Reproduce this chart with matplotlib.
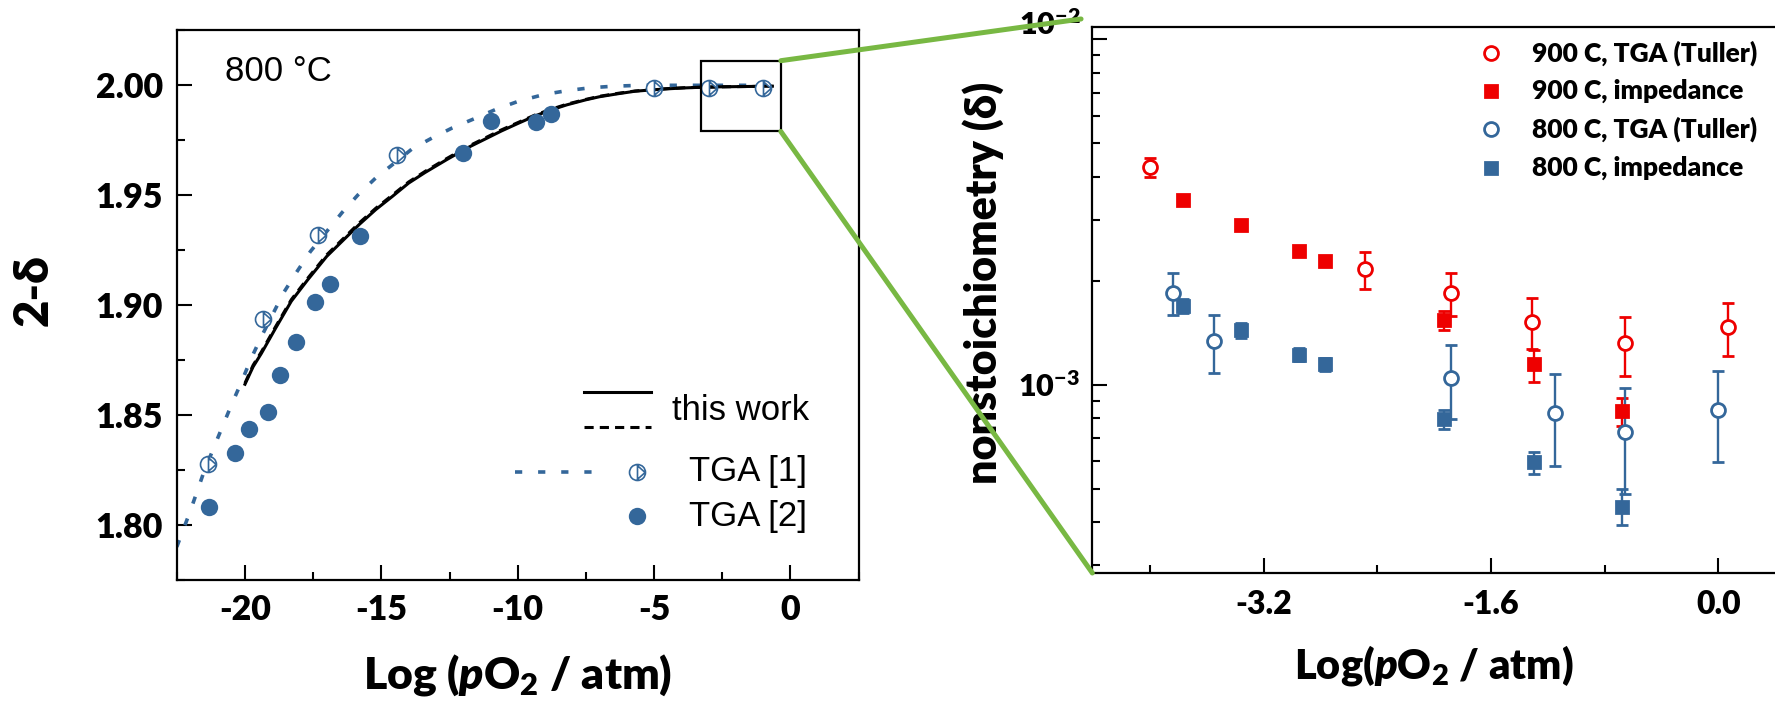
import numpy as np
import matplotlib
matplotlib.use('Agg')
import matplotlib.pyplot as plt
from matplotlib.patches import Rectangle, ConnectionPatch
from matplotlib.path import Path
from matplotlib.ticker import MultipleLocator, FormatStrFormatter, LogLocator, NullFormatter, FuncFormatter

plt.rcParams['axes.unicode_minus'] = False
plt.rcParams['mathtext.fontset'] = 'custom'
plt.rcParams['mathtext.rm'] = 'Lato'
plt.rcParams['mathtext.bf'] = 'Lato:heavy'
plt.rcParams['mathtext.it'] = 'Lato:italic'
plt.rcParams['mathtext.bfit'] = 'Lato:italic:heavy'

BLUE = '#34679A'
RED = '#EE0000'
GREEN = '#78B843'
BOLD = ['Lato', 'DejaVu Sans']
PLAIN = ['Liberation Sans', 'DejaVu Sans']
WEIGHT = 'heavy'

# ---- left panel: 2-delta vs log pO2 at 800 C ----
fit_x = [-20.0, -19.7, -19.4, -18.9, -18.3, -17.7, -17.0, -16.4, -15.8, -15.2, -14.6,
         -14.0, -13.4, -12.6, -11.85, -11.2, -10.6, -10.0, -9.4, -8.8, -8.2, -7.5,
         -7.0, -6.3, -5.7, -5.1, -4.5, -3.9, -3.3, -2.6, -2.0, -1.3, -0.66]
fit_solid = [1.864, 1.872, 1.878, 1.889, 1.9018, 1.9115, 1.9222, 1.9295, 1.9368, 1.9435, 1.9494,
             1.9555, 1.9603, 1.9662, 1.9715, 1.9755, 1.9792, 1.9826, 1.9859, 1.9887, 1.9911, 1.9934,
             1.9948, 1.9962, 1.9973, 1.9979, 1.9984, 1.9988, 1.9991, 1.9993, 1.9994, 1.9995, 1.9996]
fit_dashed = [1.8645, 1.8727, 1.8787, 1.8897, 1.9025, 1.9122, 1.9229, 1.9302, 1.9375, 1.9441, 1.950,
              1.956, 1.9608, 1.9667, 1.972, 1.976, 1.9797, 1.983, 1.9863, 1.989, 1.9914, 1.9936,
              1.995, 1.9964, 1.9974, 1.998, 1.9985, 1.9989, 1.9991, 1.9993, 1.9994, 1.9995, 1.9996]

tga1_fit_x = [-22.5, -22.0, -21.5, -21.0, -20.5, -20.13, -19.77, -19.4, -18.58, -18.09, -17.6,
              -16.44, -15.86, -15.21, -14.5, -13.87, -13.13, -12.4, -11.61, -10.81, -9.96,
              -9.04, -8.18, -7.32, -6.47, -5.5, -3.0, -0.66]
tga1_fit_y = [1.790, 1.8065, 1.8243, 1.8395, 1.8545, 1.865, 1.8758, 1.8856, 1.9057, 1.9153, 1.9244,
              1.9421, 1.9501, 1.9578, 1.9648, 1.9711, 1.9761, 1.9806, 1.9847, 1.9890, 1.9928,
              1.9958, 1.9976, 1.9989, 1.9996, 2.0, 2.0, 2.0]

tga1_x = [-21.34, -19.34, -17.32, -14.44, -5.0, -2.98, -0.99]
tga1_y = [1.8277, 1.8938, 1.9319, 1.9684, 1.9989, 1.9989, 1.9986]

tga2_x = [-21.32, -20.37, -19.84, -19.14, -18.70, -18.13, -17.43, -16.87, -15.80,
          -12.01, -10.98, -9.31, -8.77]
tga2_y = [1.808, 1.8326, 1.8438, 1.8514, 1.8681, 1.8832, 1.9013, 1.9097, 1.9313,
          1.9693, 1.9836, 1.9833, 1.9868]

# zoom window on the left panel
zoom_x = [-3.27, -0.35]
zoom_y = [1.979, 2.0112]

# ---- right panel: nonstoichiometry vs log pO2 ----
tga900_x = [-4.0, -2.49, -1.88, -1.31, -0.66, 0.07]
tga900_y = [4.27e-3, 2.17e-3, 1.85e-3, 1.52e-3, 1.32e-3, 1.47e-3]
tga900_lo = [4.01e-3, 1.90e-3, 1.58e-3, 1.27e-3, 1.06e-3, 1.21e-3]
tga900_hi = [4.53e-3, 2.43e-3, 2.11e-3, 1.78e-3, 1.57e-3, 1.72e-3]

imp900_x = [-3.77, -3.36, -2.95, -2.77, -1.93, -1.30, -0.68]
imp900_y = [3.44e-3, 2.90e-3, 2.44e-3, 2.29e-3, 1.54e-3, 1.145e-3, 8.39e-4]
imp900_lo = [3.37e-3, 2.84e-3, 2.39e-3, 2.24e-3, 1.44e-3, 1.02e-3, 7.6e-4]
imp900_hi = [3.51e-3, 2.96e-3, 2.49e-3, 2.34e-3, 1.64e-3, 1.26e-3, 9.15e-4]

tga800_x = [-3.84, -3.55, -1.88, -1.15, -0.66, 0.0]
tga800_y = [1.85e-3, 1.34e-3, 1.043e-3, 8.29e-4, 7.29e-4, 8.44e-4]
tga800_lo = [1.59e-3, 1.084e-3, 7.95e-4, 5.81e-4, 4.83e-4, 5.96e-4]
tga800_hi = [2.11e-3, 1.59e-3, 1.30e-3, 1.077e-3, 9.77e-4, 1.094e-3]

imp800_x = [-3.77, -3.36, -2.95, -2.77, -1.93, -1.30, -0.68]
imp800_y = [1.69e-3, 1.44e-3, 1.222e-3, 1.145e-3, 7.95e-4, 5.98e-4, 4.44e-4]
imp800_lo = [1.61e-3, 1.37e-3, 1.17e-3, 1.095e-3, 7.44e-4, 5.53e-4, 3.92e-4]
imp800_hi = [1.77e-3, 1.51e-3, 1.28e-3, 1.195e-3, 8.46e-4, 6.4e-4, 4.98e-4]

legend_labels = ['900 C, TGA (Tuller)', '900 C, impedance',
                 '800 C, TGA (Tuller)', '800 C, impedance']

# half-open circle marker used for TGA [1]
half_circle = Path.make_compound_path(
    Path.unit_circle(),
    Path([(0, -1), (0, 1)]),
    Path([(0, 0.85), (0.95, 0), (0, -0.85)]))

fig = plt.figure(figsize=(17.75, 7.01), dpi=100)
ax1 = fig.add_axes([0.0996, 0.1728, 0.3841, 0.7839])
ax2 = fig.add_axes([0.6154, 0.1826, 0.3874, 0.7795])

# left panel
ax1.plot(tga1_fit_x, tga1_fit_y, color=BLUE, lw=2.6, ls=(0, (2, 4.4)), zorder=2)
ax1.plot(fit_x, fit_dashed, color='black', lw=2.2, ls=(0, (3, 2)), zorder=3)
ax1.plot(fit_x, fit_solid, color='black', lw=2.2, zorder=3)
ax1.plot(tga1_x, tga1_y, ls='none', marker=half_circle, ms=11.5, mec=BLUE,
         mfc='white', mew=1.2, zorder=4)
ax1.plot(tga2_x, tga2_y, ls='none', marker='o', ms=12.5, color=BLUE, mec='none', zorder=4)
ax1.add_patch(Rectangle((zoom_x[0], zoom_y[0]), zoom_x[1] - zoom_x[0], zoom_y[1] - zoom_y[0],
                        fill=False, ec='black', lw=1.6, zorder=5))

ax1.set_xlim(-22.5, 2.5)
ax1.set_ylim(1.775, 2.025)
ax1.xaxis.set_major_locator(MultipleLocator(5))
ax1.xaxis.set_minor_locator(MultipleLocator(2.5))
ax1.yaxis.set_major_locator(MultipleLocator(0.05))
ax1.yaxis.set_minor_locator(MultipleLocator(0.025))
ax1.yaxis.set_major_formatter(FormatStrFormatter('%.2f'))
ax1.tick_params(which='both', direction='in', top=False, right=False, width=1.5)
ax1.tick_params(which='major', length=11, pad=10)
ax1.tick_params(which='minor', length=6)
for sp in ax1.spines.values():
    sp.set_linewidth(1.6)
for lab in ax1.get_xticklabels() + ax1.get_yticklabels():
    lab.set_fontfamily(BOLD)
    lab.set_fontweight(WEIGHT)
    lab.set_fontsize(24.5)

ax1.set_xlabel(r'Log ($\mathbfit{p}$O$_\mathbf{2}$ / atm)', family=BOLD, weight=WEIGHT, fontsize=32)
ax1.xaxis.label.set_va('center')
ax1.xaxis.set_label_coords(0.5, -0.173)
ax1.set_ylabel('2-δ', family=BOLD, weight=WEIGHT, fontsize=34)
ax1.yaxis.label.set_va('center')
ax1.yaxis.set_label_coords(-0.21, 0.527)

ax1.text(0.070, 0.925, '800 °C', transform=ax1.transAxes, family=PLAIN,
         fontsize=25, va='center', ha='left')

# left legend
ax1.plot([0.5967, 0.6955], [0.342, 0.342], transform=ax1.transAxes, color='black', lw=2.2)
ax1.plot([0.5967, 0.6955], [0.278, 0.278], transform=ax1.transAxes, color='black',
         lw=2.2, ls=(0, (3, 2)))
ax1.text(0.7263, 0.309, 'this work', transform=ax1.transAxes, family=PLAIN,
         fontsize=25, va='center')
ax1.plot([0.4961, 0.6132], [0.197, 0.197], transform=ax1.transAxes, color=BLUE,
         lw=2.6, ls=(0, (2, 4.4)))
ax1.plot([0.6748], [0.197], transform=ax1.transAxes, ls='none', marker=half_circle,
         ms=11.5, mec=BLUE, mfc='white', mew=1.2)
ax1.text(0.7513, 0.197, 'TGA [1]', transform=ax1.transAxes, family=PLAIN,
         fontsize=25, va='center')
ax1.plot([0.6748], [0.1156], transform=ax1.transAxes, ls='none', marker='o',
         ms=12.5, color=BLUE, mec='none')
ax1.text(0.7513, 0.1156, 'TGA [2]', transform=ax1.transAxes, family=PLAIN,
         fontsize=25, va='center')

# right panel
def draw_errorbars(x, y, lo, hi, marker, color, face):
    y = np.array(y)
    yerr = [y - np.array(lo), np.array(hi) - y]
    ax2.errorbar(x, y, yerr=yerr, fmt=marker, color=color, mec=color, mfc=face,
                 ms=10 if marker == 'o' else 9, mew=2.0, elinewidth=1.7,
                 capsize=4.3, capthick=1.7)

draw_errorbars(tga900_x, tga900_y, tga900_lo, tga900_hi, 'o', RED, 'white')
draw_errorbars(imp900_x, imp900_y, imp900_lo, imp900_hi, 's', RED, RED)
draw_errorbars(tga800_x, tga800_y, tga800_lo, tga800_hi, 'o', BLUE, 'white')
draw_errorbars(imp800_x, imp800_y, imp800_lo, imp800_hi, 's', BLUE, BLUE)

ax2.set_yscale('log')
ax2.set_xlim(-4.405, 0.433)
ax2.set_ylim(2.85e-4, 1.09e-2)
ax2.xaxis.set_major_locator(MultipleLocator(1.6))
ax2.xaxis.set_minor_locator(MultipleLocator(0.8))
ax2.xaxis.set_major_formatter(FormatStrFormatter('%.1f'))
ax2.yaxis.set_major_locator(LogLocator(base=10))
ax2.yaxis.set_minor_locator(LogLocator(base=10, subs=np.arange(2, 10)))
ax2.yaxis.set_minor_formatter(NullFormatter())
ax2.yaxis.set_major_formatter(FuncFormatter(
    lambda v, pos: r'$\mathbf{10^{%d}}$' % round(np.log10(v)) if abs(v - 1e-3) < 1e-9 else ''))
ax2.tick_params(which='both', direction='in', top=False, right=False, width=1.5)
ax2.tick_params(which='major', length=11, pad=9)
ax2.tick_params(axis='x', which='major', pad=12)
ax2.tick_params(which='minor', length=6)
ax2.spines['right'].set_visible(False)
for sp in ax2.spines.values():
    sp.set_linewidth(1.6)
for lab in ax2.get_xticklabels():
    lab.set_fontfamily(BOLD)
    lab.set_fontweight(WEIGHT)
    lab.set_fontsize(23)
for lab in ax2.get_yticklabels():
    lab.set_fontsize(22)
ax2.annotate(r'$\mathbf{10^{-2}}$', xy=(0, 1e-2), xycoords=('axes fraction', 'data'),
             xytext=(-12, 14), textcoords='offset pixels', ha='right', va='center',
             fontsize=22, annotation_clip=False)

ax2.set_xlabel(r'Log($\mathbfit{p}$O$_\mathbf{2}$ / atm)', family=BOLD, weight=WEIGHT, fontsize=30)
ax2.xaxis.label.set_va('center')
ax2.xaxis.set_label_coords(0.497, -0.170)
ax2.set_ylabel('nonstoichiometry (δ)', family=BOLD, weight=WEIGHT, fontsize=31)
ax2.yaxis.label.set_va('center')
ax2.yaxis.set_label_coords(-0.159, 0.531)

# right legend
legend_style = [('o', RED, 'white'), ('s', RED, RED), ('o', BLUE, 'white'), ('s', BLUE, BLUE)]
for lab, (mk, col, face), yy in zip(legend_labels, legend_style, [0.952, 0.882, 0.813, 0.742]):
    ax2.plot([0.5795], [yy], transform=ax2.transAxes, ls='none', marker=mk,
             ms=10 if mk == 'o' else 9, mec=col, mfc=face, mew=2.0)
    ax2.text(0.6395, yy, lab, transform=ax2.transAxes, family=BOLD, weight=WEIGHT,
             fontsize=19, va='center')

# green zoom connectors
for xa, ya, xb, yb in [(zoom_x[1], zoom_y[1], -0.0164, 1.0139),
                       (zoom_x[1], zoom_y[0], 0.0, 0.0)]:
    con = ConnectionPatch(xyA=(xa, ya), coordsA=ax1.transData,
                          xyB=(xb, yb), coordsB=ax2.transAxes,
                          color=GREEN, lw=3.6, zorder=1)
    fig.add_artist(con)

fig.savefig('out.png', dpi=100)
